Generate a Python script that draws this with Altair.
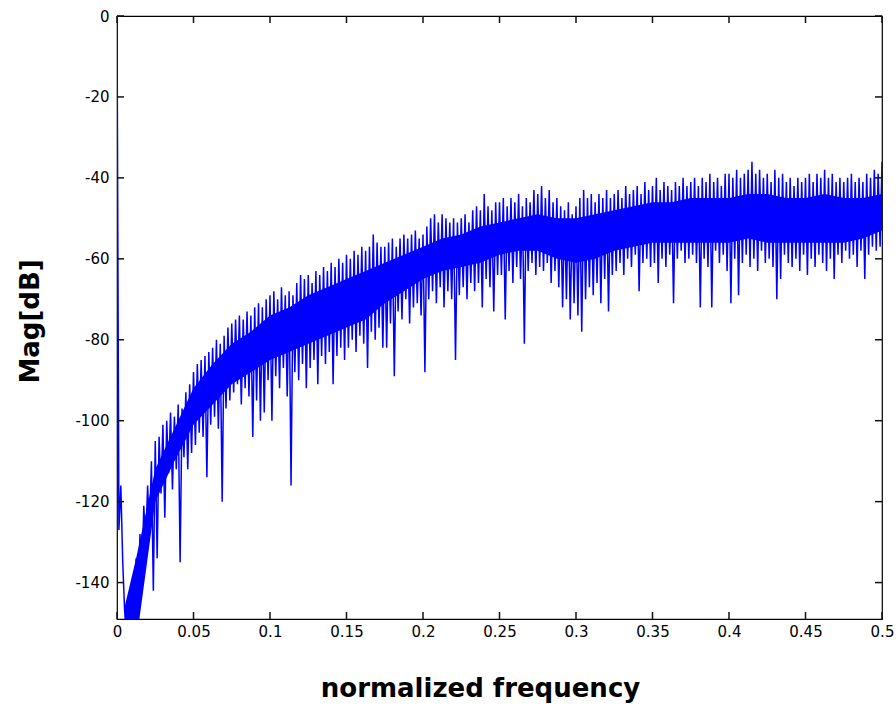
import altair as alt
import pandas as pd

# Magnitude spectrum samples [dB], one every 0.00125 of normalized frequency
mag_000_025 = [0, -127, -116, -135, -147, -152, -146, -155, -145, -151,
               -134, -146, -128, -140, -121, -131, -116, -127, -110, -142]
mag_025_050 = [-105, -134, -104, -118, -101, -124, -100, -113, -98, -117,
               -99, -112, -96, -135, -97, -109, -93, -112, -91, -108]
mag_050_075 = [-88, -106, -86, -103, -85, -104, -84, -114, -83, -101,
               -82, -99, -80, -102, -81, -120, -79, -97, -77, -95]
mag_075_100 = [-76, -93, -75, -91, -74, -96, -75, -92, -73, -94,
               -74, -104, -72, -95, -71, -100, -72, -98, -70, -90]
mag_100_125 = [-69, -100, -68, -89, -70, -92, -67, -87, -69, -94,
               -68, -116, -69, -88, -66, -90, -64, -86, -65, -92]
mag_125_150 = [-64, -87, -66, -85, -63, -91, -64, -84, -62, -86,
               -63, -83, -61, -91, -62, -84, -60, -82, -61, -85]
mag_150_175 = [-59, -82, -60, -80, -58, -83, -59, -79, -57, -81,
               -58, -87, -57, -78, -54, -80, -56, -77, -57, -82]
mag_175_200 = [-57, -82, -56, -76, -55, -89, -57, -73, -55, -75,
               -54, -70, -55, -76, -54, -72, -53, -71, -55, -74]
mag_200_225 = [-54, -88, -52, -70, -50, -68, -49, -71, -51, -67,
               -49, -72, -50, -68, -51, -70, -50, -85, -51, -69]
mag_225_250 = [-50, -67, -49, -70, -51, -66, -48, -68, -47, -66,
               -48, -72, -44, -65, -47, -67, -48, -73, -46, -64]
mag_250_275 = [-46, -64, -45, -75, -47, -63, -45, -66, -46, -62,
               -44, -65, -47, -81, -45, -63, -46, -61, -43, -64]
mag_275_300 = [-44, -62, -42, -63, -45, -61, -43, -66, -46, -63,
               -45, -67, -47, -72, -48, -70, -46, -75, -49, -71]
mag_300_325 = [-47, -74, -45, -78, -43, -70, -45, -67, -44, -69,
               -46, -66, -44, -71, -45, -65, -43, -73, -45, -64]
mag_325_350 = [-44, -63, -43, -61, -45, -64, -42, -60, -44, -62,
               -43, -59, -42, -68, -44, -61, -41, -60, -43, -62]
mag_350_375 = [-42, -61, -40, -66, -43, -60, -41, -62, -42, -59,
               -43, -71, -41, -60, -42, -58, -40, -61, -42, -60]
mag_375_400 = [-41, -59, -40, -61, -42, -72, -40, -60, -41, -62,
               -39, -72, -41, -58, -40, -61, -42, -59, -39, -63]
mag_400_425 = [-39, -71, -40, -60, -38, -69, -40, -61, -39, -59,
               -38, -62, -36, -60, -39, -63, -38, -58, -40, -61]
mag_425_450 = [-39, -60, -41, -62, -38, -70, -40, -65, -39, -59,
               -41, -61, -40, -62, -42, -60, -40, -63, -41, -59]
mag_450_475 = [-40, -64, -39, -60, -41, -62, -39, -59, -40, -61,
               -38, -63, -40, -60, -39, -65, -41, -59, -40, -61]
mag_475_500 = [-41, -58, -40, -60, -39, -59, -41, -62, -40, -58,
               -41, -65, -39, -59, -40, -57, -38, -58, -39, -57, -36]

mag = (mag_000_025 + mag_025_050 + mag_050_075 + mag_075_100 + mag_100_125
       + mag_125_150 + mag_150_175 + mag_175_200 + mag_200_225 + mag_225_250
       + mag_250_275 + mag_275_300 + mag_300_325 + mag_325_350 + mag_350_375
       + mag_375_400 + mag_400_425 + mag_425_450 + mag_450_475 + mag_475_500)
bin_step = 0.00125
freq = [i * bin_step for i in range(len(mag))]

# Dense (solid-looking) core of the noisy band
core_f = [0.005, 0.0125, 0.025, 0.0375, 0.05, 0.0625, 0.075, 0.0875, 0.1, 0.1125, 0.125,
          0.1375, 0.15, 0.1625, 0.175, 0.1875, 0.2, 0.2125, 0.225, 0.2375, 0.25,
          0.2625, 0.275, 0.2875, 0.3, 0.3125, 0.325, 0.3375, 0.35, 0.3625, 0.375,
          0.3875, 0.4, 0.4125, 0.425, 0.4375, 0.45, 0.4625, 0.475, 0.4875, 0.5]
core_top = [-146, -134, -112, -102, -92, -86, -81, -78, -74, -72, -69,
            -67, -65, -63, -61, -59, -57, -55, -54, -52, -51,
            -50, -49, -50, -50, -49, -48, -47, -46, -46, -45,
            -45, -45, -44, -44, -45, -45, -44, -45, -45, -44]
core_bot = [-155, -155, -120, -110, -101, -96, -91, -88, -85, -83, -81,
            -79, -77, -75, -71, -68, -65, -63, -62, -61, -59,
            -58, -58, -60, -61, -60, -58, -57, -56, -56, -56,
            -56, -56, -55, -56, -56, -56, -56, -56, -55, -53]

x_ticks = [0, 0.05, 0.1, 0.15, 0.2, 0.25, 0.3, 0.35, 0.4, 0.45, 0.5]
y_ticks = [-140, -120, -100, -80, -60, -40, -20, 0]

df = pd.DataFrame({"f": freq, "mag": mag, "i": list(range(len(mag)))})
core_df = pd.DataFrame({"f": core_f, "top": core_top, "bot": core_bot})
xt_df = pd.DataFrame({"xv": x_ticks})
yt_df = pd.DataFrame({"yv": y_ticks})

FONT = "DejaVu Sans"
BLUE = "#0000ff"
W, H = 765, 603
TICK = 7

x_scale = alt.Scale(domain=[0, 0.5], nice=False, zero=False)
y_scale = alt.Scale(domain=[-149, 0], nice=False, zero=False)

x_axis = alt.Axis(values=x_ticks, labelExpr="'' + datum.value", orient="bottom",
                  ticks=False, domain=False, grid=False, labelFlush=False,
                  labelPadding=5, labelFont=FONT, labelFontSize=15, labelColor="#000000",
                  titleFont=FONT, titleFontSize=26, titleFontWeight="bold",
                  titleColor="#000000", titleX=363, titleY=69,
                  titleBaseline="middle", titleAlign="center")
y_axis = alt.Axis(values=y_ticks, labelExpr="'' + datum.value", orient="left",
                  ticks=False, domain=False, grid=False, labelFlush=False,
                  labelPadding=8, labelFont=FONT, labelFontSize=15, labelColor="#000000",
                  titleFont=FONT, titleFontSize=26, titleFontWeight="bold",
                  titleColor="#000000", titleX=-87, titleY=305,
                  titleBaseline="middle", titleAlign="center", titleAngle=270)

X_T = "normalized frequency"
Y_T = "Mag[dB]"

core = alt.Chart(core_df).mark_area(color=BLUE, clip=True).encode(
    x=alt.X("f:Q", scale=x_scale, axis=x_axis, title=X_T),
    y=alt.Y("top:Q", scale=y_scale, axis=y_axis, title=Y_T),
    y2="bot:Q",
)

line = alt.Chart(df).mark_line(color=BLUE, strokeWidth=1.5, clip=True).encode(
    x=alt.X("f:Q", scale=x_scale, axis=x_axis, title=X_T),
    y=alt.Y("mag:Q", scale=y_scale, axis=y_axis, title=Y_T),
    order="i:Q",
)

# inward ticks on all four sides (box style)
TC = "#111111"
tick_bottom = alt.Chart(xt_df).mark_rule(color=TC, strokeWidth=1.5).encode(
    x=alt.X("xv:Q", scale=x_scale, axis=x_axis, title=X_T),
    y=alt.value(H), y2=alt.value(H - TICK))
tick_top = alt.Chart(xt_df).mark_rule(color=TC, strokeWidth=1.5).encode(
    x=alt.X("xv:Q", scale=x_scale, axis=x_axis, title=X_T),
    y=alt.value(0), y2=alt.value(TICK))
tick_left = alt.Chart(yt_df).mark_rule(color=TC, strokeWidth=1.5).encode(
    y=alt.Y("yv:Q", scale=y_scale, axis=y_axis, title=Y_T),
    x=alt.value(0), x2=alt.value(TICK))
tick_right = alt.Chart(yt_df).mark_rule(color=TC, strokeWidth=1.5).encode(
    y=alt.Y("yv:Q", scale=y_scale, axis=y_axis, title=Y_T),
    x=alt.value(W), x2=alt.value(W - TICK))

chart = alt.layer(core, line, tick_bottom, tick_top, tick_left, tick_right).properties(
    width=W, height=H,
    autosize=alt.AutoSizeParams(type="none"),
    padding={"left": 117, "top": 16, "right": 14, "bottom": 92},
    background="white",
).configure_view(stroke="#000000", strokeWidth=1.2)

chart.save("out.html", embed_options={"renderer": "svg", "actions": False})
